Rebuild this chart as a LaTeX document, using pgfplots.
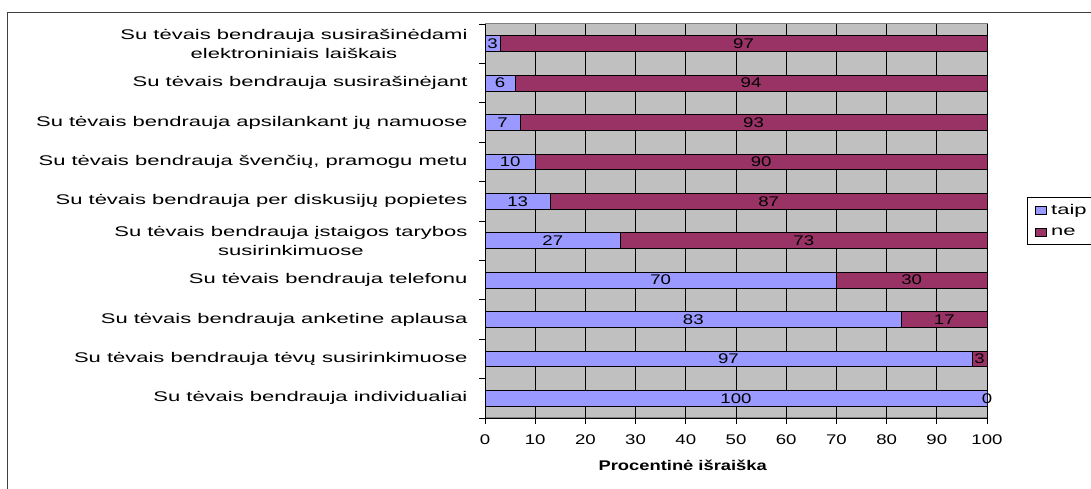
\documentclass[border=0pt]{standalone}
\usepackage{fontspec}
\setmainfont{Liberation Sans}[FakeStretch=1.57,BoldFeatures={FakeStretch=1.31}]
\newfontfamily\digitfont{Liberation Sans}[FakeStretch=1.33]
\usepackage{pgfplots}
\usepackage{pgfplotstable}
\pgfplotsset{compat=1.18}
\definecolor{taipc}{RGB}{153,153,255}
\definecolor{nec}{RGB}{153,51,102}
\definecolor{bggray}{RGB}{192,192,192}
\definecolor{bordergray}{RGB}{128,128,128}
\pgfplotstableread{
y taip ne
9 3 97
8 6 94
7 7 93
6 10 90
5 13 87
4 27 73
3 70 30
2 83 17
1 97 3
0 100 0
}\datatable
\begin{document}
\begin{tikzpicture}[x=1pt,y=1pt]
\useasboundingbox (0,0) rectangle (1091,489);
\clip (0,0) rectangle (1091,489);
\draw[black!75, line width=1pt] (7.5,-20) -- (7.5,476.5) -- (1120,476.5);
\begin{axis}[
  at={(485pt,71pt)}, anchor=south west,
  scale only axis, width=502pt, height=394pt,
  xbar stacked, bar width=15.7pt,
  xmin=0, xmax=100, ymin=-0.5, ymax=9.5,
  xtick={0,10,...,100},
  minor xtick={0,10,...,100},
  ytick={0,...,9},
  minor ytick={-0.5,0.5,...,9.5},
  yticklabels={
    Su tėvais bendrauja individualiai,
    Su tėvais bendrauja tėvų susirinkimuose,
    Su tėvais bendrauja anketine aplausa,
    Su tėvais bendrauja telefonu,
    {Su tėvais bendrauja įstaigos tarybos\\susirinkimuose},
    Su tėvais bendrauja per diskusijų popietes,
    {Su tėvais bendrauja švenčių, pramogu metu},
    Su tėvais bendrauja apsilankant jų namuose,
    Su tėvais bendrauja susirašinėjant,
    {Su tėvais bendrauja susirašinėdami\\elektroniniais laiškais}},
  axis x line*=bottom, axis y line*=left,
  axis line style={black, line width=0.9pt},
  tick align=outside,
  major tick length=0pt, minor tick length=6pt,
  tick style={black, line width=0.9pt},
  xmajorgrids, major grid style={black, line width=0.9pt},
  axis background/.style={fill=bggray, draw=bordergray, line width=1pt},
  /pgf/number format/assume math mode=true,
  xticklabel style={font=\digitfont\fontsize{14}{16}\selectfont, yshift=-13pt},
  yticklabel style={font=\fontsize{14}{19}\selectfont, align=center, xshift=-14pt},
  xlabel={\textbf{Procentinė išraiška}},
  xlabel style={at={(axis description cs:0.394,0)}, anchor=north, yshift=-38.7pt, font=\fontsize{14}{16}\selectfont},
  legend style={at={(1.0797,0.5617)}, anchor=north west, draw=black, line width=0.8pt,
    font=\fontsize{14}{16}\selectfont, inner xsep=8pt, inner ysep=5.5pt, row sep=8pt, column sep=2pt},
  legend cell align=left,
  legend image code/.code={\draw[#1, line width=0.8pt] (0pt,-3.5pt) rectangle (11pt,4pt);},
]
\addplot[fill=taipc, draw=black, line width=0.8pt] table[x=taip, y=y] {\datatable};
\addplot[fill=nec, draw=black, line width=0.8pt] table[x=ne, y=y] {\datatable};
\legend{taip, ne}
\end{axis}
\begin{axis}[
  at={(485pt,71pt)}, anchor=south west,
  scale only axis, width=502pt, height=394pt,
  xmin=0, xmax=100, ymin=-0.5, ymax=9.5,
  hide axis, clip=false,
  nodes near coords, point meta=explicit symbolic,
  nodes near coords style={anchor=center, font=\digitfont\fontsize{14}{16}\selectfont, text=black},
]
\addplot[draw=none, mark=none] table[x expr=\thisrow{taip}/2, y=y, meta=taip] {\datatable};
\addplot[draw=none, mark=none] table[x expr=\thisrow{taip}+\thisrow{ne}/2, y=y, meta=ne] {\datatable};
\end{axis}
\end{tikzpicture}
\end{document}
